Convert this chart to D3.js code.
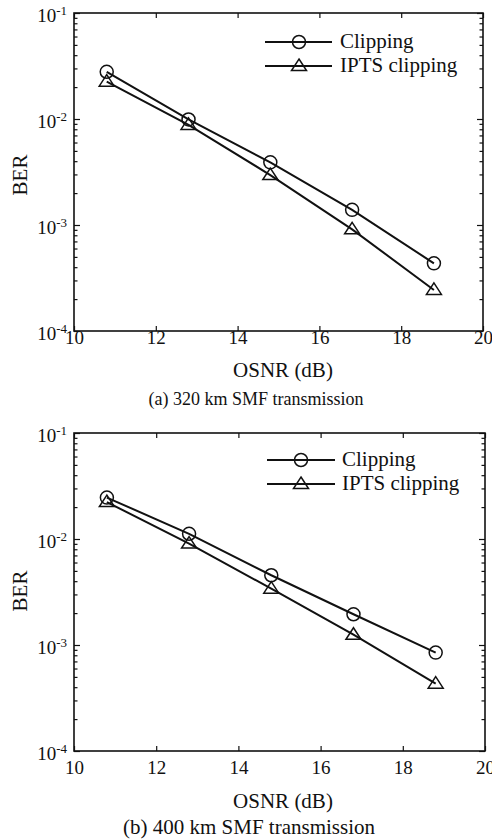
<!DOCTYPE html>
<html>
<head>
<meta charset="utf-8">
<script src="https://cdn.jsdelivr.net/npm/d3@7/dist/d3.min.js"></script>
<style>
  html, body { margin: 0; padding: 0; background: #fff; }
  svg { display: block; }
  text { font-family: "Liberation Serif", "Times New Roman", serif; fill: #111; }
</style>
</head>
<body>
<svg id="chart" width="492" height="840"></svg>
<script>
// OSNR sweep points (dB), shared by both panels
const osnr = [10.8, 12.8, 14.8, 16.8, 18.8];

// BER after 320 km SMF
const berClip320 = [0.0279, 0.0099, 0.0039, 0.00139, 0.000435];
const berIpts320 = [0.0225, 0.0088, 0.00296, 0.00091, 0.000244];

// BER after 400 km SMF
const berClip400 = [0.0246, 0.0112, 0.00455, 0.00195, 0.000848];
const berIpts400 = [0.0223, 0.00905, 0.0034, 0.00125, 0.000432];

const seriesNames = ["Clipping", "IPTS clipping"];
const xTicks = [10, 12, 14, 16, 18, 20];
const yTicks = [1e-1, 1e-2, 1e-3, 1e-4];
const yExponents = ["-1", "-2", "-3", "-4"];
const captions = ["(a) 320 km SMF transmission", "(b) 400 km SMF transmission"];

const panels = [
  {
    box: { left: 74, right: 483, top: 13, bottom: 331 },
    series: [berClip320, berIpts320],
    caption: captions[0], captionX: 256, captionY: 405, captionSize: 18,
    xPad: -0.5, osnrY: 377, berY: 175,
    legend: { x0: 265, x1: 332, xm: 299, y: [42, 66], tx: 340 }
  },
  {
    box: { left: 74, right: 485, top: 433, bottom: 751 },
    series: [berClip400, berIpts400],
    caption: captions[1], captionX: 249, captionY: 834, captionSize: 21,
    xPad: 9.5, osnrY: 808, berY: 591,
    legend: { x0: 267, x1: 335, xm: 301, y: [460, 484], tx: 342 }
  }
];

// log-decade minor tick positions 2..9 inside each decade
const minorTicks = [];
[1e-4, 1e-3, 1e-2].forEach(d => d3.range(2, 10).forEach(k => minorTicks.push(d * k)));

const svg = d3.select("#chart");

function marker(g, kind, x, y) {
  if (kind === 0) {
    g.append("circle")
      .attr("cx", x).attr("cy", y).attr("r", 6.5)
      .attr("fill", "none").attr("stroke", "#111").attr("stroke-width", 1.5);
  } else {
    g.append("path")
      .attr("d", `M${x},${y - 7}L${x + 7.5},${y + 4.5}L${x - 7.5},${y + 4.5}Z`)
      .attr("fill", "none").attr("stroke", "#111").attr("stroke-width", 1.5)
      .attr("stroke-linejoin", "miter");
  }
}

panels.forEach(p => {
  const b = p.box;
  const x = d3.scaleLinear().domain([10, 20]).range([b.left, b.right]);
  const y = d3.scaleLog().domain([1e-4, 1e-1]).range([b.bottom, b.top]);
  const g = svg.append("g");

  const styleAxis = sel => {
    sel.select(".domain").remove();
    sel.selectAll(".tick line").attr("stroke", "#111").attr("stroke-width", 1.2);
  };

  // bottom axis with labels
  const xb = g.append("g").attr("transform", `translate(0,${b.bottom})`)
    .call(d3.axisBottom(x).tickValues(xTicks).tickSize(-5).tickPadding(p.xPad).tickFormat(d3.format("d")));
  styleAxis(xb);
  xb.selectAll("text").attr("font-size", 19).attr("fill", "#111")
    .style("font-family", "'Liberation Serif', serif");

  // top axis ticks
  const xt = g.append("g").attr("transform", `translate(0,${b.top})`)
    .call(d3.axisTop(x).tickValues(xTicks).tickSize(-5).tickFormat(""));
  styleAxis(xt);

  // left / right major and minor ticks
  [[d3.axisLeft, b.left], [d3.axisRight, b.right]].forEach(([ax, pos]) => {
    const major = g.append("g").attr("transform", `translate(${pos},0)`)
      .call(ax(y).tickValues(yTicks).tickSize(-6).tickFormat(""));
    styleAxis(major);
    const minor = g.append("g").attr("transform", `translate(${pos},0)`)
      .call(ax(y).tickValues(minorTicks).tickSize(-3.5).tickFormat(""));
    styleAxis(minor);
  });

  // y tick labels as 10 with superscript exponent
  yTicks.forEach((v, i) => {
    const t = g.append("text")
      .attr("x", b.left - 7).attr("y", y(v) + 8.5)
      .attr("text-anchor", "end").attr("font-size", 19);
    t.append("tspan").text("10");
    t.append("tspan").attr("font-size", 13).attr("dy", -7).text(yExponents[i]);
  });

  // plot frame
  g.append("rect")
    .attr("x", b.left).attr("y", b.top)
    .attr("width", b.right - b.left).attr("height", b.bottom - b.top)
    .attr("fill", "none").attr("stroke", "#111").attr("stroke-width", 1.6);

  // series lines and markers
  const line = d3.line().x(d => x(d[0])).y(d => y(d[1]));
  p.series.forEach((vals, si) => {
    const pts = osnr.map((o, i) => [o, vals[i]]);
    g.append("path").datum(pts).attr("d", line)
      .attr("fill", "none").attr("stroke", "#111").attr("stroke-width", 2);
    pts.forEach(d => marker(g, si, x(d[0]), y(d[1])));
  });

  // legend
  const L = p.legend;
  seriesNames.forEach((name, si) => {
    const ly = L.y[si];
    g.append("line").attr("x1", L.x0).attr("x2", L.x1).attr("y1", ly).attr("y2", ly)
      .attr("stroke", "#111").attr("stroke-width", 2);
    marker(g, si, L.xm, ly);
    g.append("text").attr("x", L.tx).attr("y", ly + 6).attr("font-size", 21).text(name);
  });

  // axis titles and caption
  g.append("text").attr("x", 283).attr("y", p.osnrY)
    .attr("text-anchor", "middle").attr("font-size", 21).text("OSNR (dB)");
  g.append("text").attr("transform", `translate(26.5,${p.berY}) rotate(-90)`)
    .attr("text-anchor", "middle").attr("font-size", 21).text("BER");
  g.append("text").attr("x", p.captionX).attr("y", p.captionY)
    .attr("text-anchor", "middle").attr("font-size", p.captionSize).text(p.caption);
});
</script>
</body>
</html>
